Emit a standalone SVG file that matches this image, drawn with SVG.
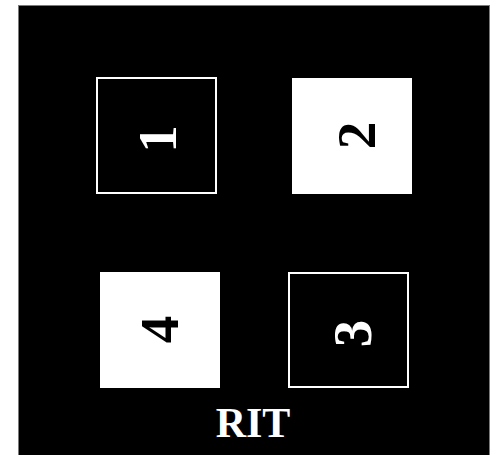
<svg xmlns="http://www.w3.org/2000/svg" width="493" height="455" viewBox="0 0 493 455">
<style>
.bg{fill:#000;stroke:#7a7a7a;stroke-width:1}
.outline{fill:#000;stroke:#fff;stroke-width:2}
.filled{fill:#fff;stroke:none}
.num{font-family:"Liberation Serif","Times New Roman",serif;font-weight:bold;font-size:55px;text-anchor:middle}
.light{fill:#fff}
.dark{fill:#000}
.title{font-family:"Liberation Serif","Times New Roman",serif;font-weight:bold;font-size:42px;fill:#fff;text-anchor:middle}
</style>
<rect class="bg" x="18.5" y="5.5" width="471" height="460"/>
<g id="node1">
<rect class="outline" x="97" y="78" width="119" height="115"/>
<text class="num light" transform="translate(176,139) rotate(-90)">1</text>
</g>
<g id="node2">
<rect class="filled" x="292" y="78" width="120" height="116"/>
<text class="num dark" transform="translate(375,135.5) rotate(-90)">2</text>
</g>
<g id="node4">
<rect class="filled" x="100" y="272" width="120" height="116"/>
<text class="num dark" transform="translate(178,329.5) rotate(-90)">4</text>
</g>
<g id="node3">
<rect class="outline" x="289" y="273" width="119" height="114"/>
<text class="num light" transform="translate(371,333.5) rotate(-90)">3</text>
</g>
<g id="connectors"></g>
<text class="title" x="253" y="437">RIT</text>
</svg>
